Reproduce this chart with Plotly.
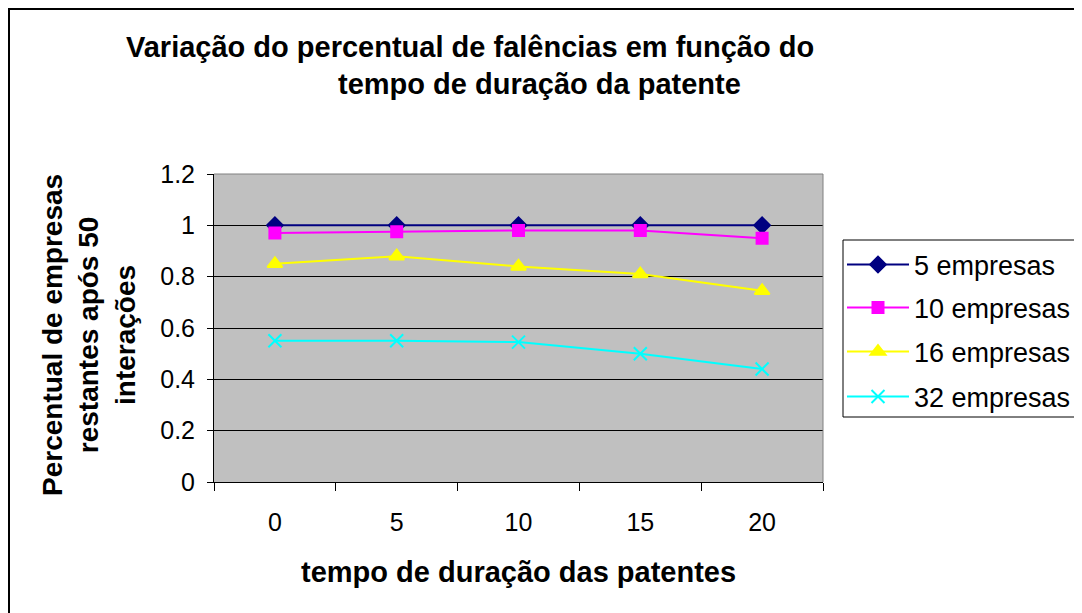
import plotly.graph_objects as go

categories = ["0", "5", "10", "15", "20"]
series_names = ["5 empresas", "10 empresas", "16 empresas", "32 empresas"]
vals_5 = [1.0, 1.0, 1.0, 1.0, 1.0]
vals_10 = [0.97, 0.975, 0.98, 0.98, 0.95]
vals_16 = [0.85, 0.88, 0.84, 0.81, 0.745]
vals_32 = [0.55, 0.55, 0.545, 0.50, 0.44]
y_ticks = [0, 0.2, 0.4, 0.6, 0.8, 1.0, 1.2]

colors = ["#000080", "#FF00FF", "#FFFF00", "#00FFFF"]
symbols = ["diamond", "square", "triangle-up", "x-thin"]
sizes = [12, 11, 13, 13]
all_vals = [vals_5, vals_10, vals_16, vals_32]
legend_ids = ["legend", "legend2", "legend3", "legend4"]
legend_rows = [265, 308, 352, 397]  # screen y of legend rows

FONT = "Liberation Sans, Arial, sans-serif"

fig = go.Figure()
for name, vals, c, s, sz, lg in zip(series_names, all_vals, colors, symbols, sizes, legend_ids):
    fig.add_trace(go.Scatter(
        x=categories, y=vals, name=name, mode="lines+markers",
        line=dict(color=c, width=2),
        marker=dict(symbol=s, size=sz, color=c, line=dict(color=c, width=2)),
        legend=lg,
    ))

OFF = 8  # page body margin
W, H = 1082 - OFF, 613 - OFF
L, R, T, B = 214 - OFF, 823 - OFF, 174 - OFF, 482 - OFF

def px_x(p):
    return (p - OFF - L) / (R - L)

def px_y(p):
    return (B - (p - OFF)) / (B - T)

legend_layout = {}
for lg, row in zip(legend_ids, legend_rows):
    legend_layout[lg] = dict(
        x=px_x(842), y=px_y(row), xanchor="left", yanchor="middle",
        borderwidth=0, bgcolor="rgba(0,0,0,0)",
        font=dict(family=FONT, size=27, color="black"),
        itemwidth=62,
    )

fig.update_layout(
    width=W, height=H,
    margin=dict(l=L, r=W - R, t=T, b=H - B, pad=0, autoexpand=False),
    paper_bgcolor="white",
    plot_bgcolor="#C0C0C0",
    font=dict(family=FONT, size=25, color="black"),
    showlegend=True,
    xaxis=dict(
        type="category", range=[-0.5, 4.5], tickson="boundaries",
        ticks="outside", ticklen=8, tickcolor="black", tickwidth=1,
        showline=True, linecolor="black", linewidth=1,
        showgrid=False, ticklabelstandoff=18,
        tickfont=dict(family=FONT, size=25, color="black"),
    ),
    yaxis=dict(
        range=[0, 1.2], tickvals=y_ticks,
        ticks="outside", ticklen=6, tickcolor="black", tickwidth=1,
        showline=True, linecolor="black", linewidth=1,
        showgrid=True, gridcolor="black", gridwidth=1,
        zeroline=False, ticklabelstandoff=7,
        tickfont=dict(family=FONT, size=25, color="black"),
    ),
    **legend_layout,
)

# plot area border (gray) top/right
fig.add_shape(type="line", xref="paper", yref="paper", x0=0, x1=1, y0=1, y1=1,
              line=dict(color="#808080", width=1))
fig.add_shape(type="line", xref="paper", yref="paper", x0=1, x1=1, y0=0, y1=1,
              line=dict(color="#808080", width=1))
# legend box
fig.add_shape(type="rect", xref="paper", yref="paper",
              x0=px_x(843), x1=px_x(1200), y0=px_y(417), y1=px_y(240),
              line=dict(color="black", width=1), fillcolor="white", layer="below")
# outer chart border
fig.add_shape(type="rect", xref="paper", yref="paper",
              x0=px_x(9), x1=px_x(1200), y0=px_y(700), y1=px_y(9),
              line=dict(color="black", width=2), layer="below")

# title lines
fig.add_annotation(text="<b>Variação do percentual de falências em função do</b>",
                   xref="paper", yref="paper", x=px_x(470), y=px_y(47),
                   xanchor="center", yanchor="middle", showarrow=False,
                   font=dict(family=FONT, size=29, color="black"))
fig.add_annotation(text="<b>tempo de duração da patente</b>",
                   xref="paper", yref="paper", x=px_x(539), y=px_y(84),
                   xanchor="center", yanchor="middle", showarrow=False,
                   font=dict(family=FONT, size=29, color="black"))
# x title
fig.add_annotation(text="<b>tempo de duração das patentes</b>",
                   xref="paper", yref="paper", x=px_x(518), y=px_y(572),
                   xanchor="center", yanchor="middle", showarrow=False,
                   font=dict(family=FONT, size=29, color="black"))
# y title
fig.add_annotation(text="<b>Percentual de empresas<br>restantes após 50<br>interações</b>",
                   xref="paper", yref="paper", x=px_x(89), y=px_y(335),
                   xanchor="center", yanchor="middle", showarrow=False,
                   textangle=-90,
                   font=dict(family=FONT, size=28, color="black"))

fig.write_html("out.html")
